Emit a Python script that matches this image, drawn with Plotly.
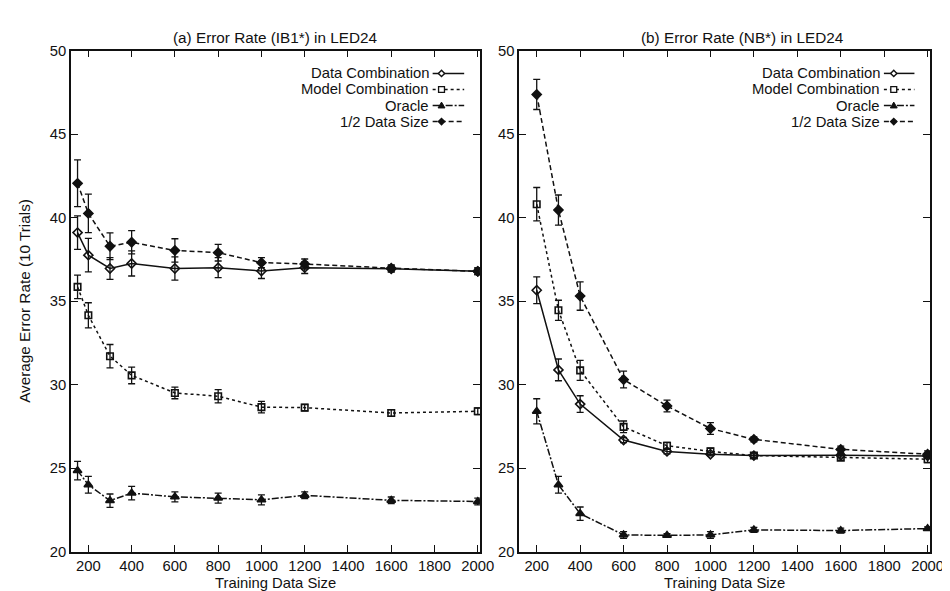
import plotly.graph_objects as go

# ---------------- data ----------------
x_left = [150, 200, 300, 400, 600, 800, 1000, 1200, 1600, 2000]
x_right = [200, 300, 400, 600, 800, 1000, 1200, 1600, 2000]

# (a) IB1*
a_data_comb = [39.1, 37.75, 36.95, 37.25, 36.95, 37.0, 36.8, 37.0, 36.93, 36.78]
a_data_comb_err = [1.0, 1.0, 0.65, 0.75, 0.7, 0.6, 0.45, 0.35, 0.2, 0.2]
a_model_comb = [35.85, 34.15, 31.7, 30.55, 29.5, 29.3, 28.65, 28.62, 28.3, 28.4]
a_model_comb_err = [0.7, 0.75, 0.7, 0.5, 0.35, 0.4, 0.35, 0.2, 0.2, 0.2]
a_oracle = [24.85, 24.0, 23.05, 23.5, 23.28, 23.2, 23.1, 23.37, 23.07, 23.0]
a_oracle_err = [0.55, 0.5, 0.4, 0.4, 0.3, 0.3, 0.3, 0.2, 0.2, 0.2]
a_half = [42.05, 40.25, 38.28, 38.52, 38.03, 37.9, 37.3, 37.22, 36.97, 36.78]
a_half_err = [1.4, 1.15, 0.8, 0.7, 0.7, 0.5, 0.3, 0.3, 0.2, 0.2]

# (b) NB*
b_data_comb = [35.65, 30.88, 28.83, 26.68, 26.0, 25.83, 25.75, 25.77, 25.73]
b_data_comb_err = [0.8, 0.65, 0.5, 0.15, 0.15, 0.1, 0.1, 0.1, 0.1]
b_model_comb = [40.8, 34.45, 30.85, 27.47, 26.34, 26.0, 25.75, 25.62, 25.53]
b_model_comb_err = [1.0, 0.6, 0.6, 0.35, 0.2, 0.2, 0.15, 0.15, 0.2]
b_oracle = [28.4, 24.0, 22.27, 21.0, 20.97, 21.0, 21.3, 21.26, 21.38]
b_oracle_err = [0.75, 0.5, 0.4, 0.2, 0.1, 0.2, 0.15, 0.15, 0.1]
b_half = [47.37, 40.45, 35.3, 30.3, 28.72, 27.37, 26.72, 26.12, 25.83]
b_half_err = [0.9, 0.9, 0.85, 0.5, 0.35, 0.35, 0.15, 0.2, 0.2]

series_names = ["Data Combination", "Model Combination", "Oracle", "1/2 Data Size"]
x_ticks = [200, 400, 600, 800, 1000, 1200, 1400, 1600, 1800, 2000]
y_ticks = [20, 25, 30, 35, 40, 45, 50]
titles = ["(a) Error Rate (IB1*) in LED24", "(b) Error Rate (NB*) in LED24"]
x_title = "Training Data Size"
y_title = "Average Error Rate (10 Trials)"

# ---------------- styles ----------------
W, H = 950, 591
FONT = "Liberation Sans, Arial, Helvetica, sans-serif"
BLACK = "#111111"

styles = {
    "Data Combination": dict(dash="solid", symbol="diamond-open", size=7),
    "Model Combination": dict(dash="3px,3px", symbol="square-open", size=6.5),
    "Oracle": dict(dash="7px,2px,2px,2px", symbol="triangle-up", size=7.5),
    "1/2 Data Size": dict(dash="5px,3px", symbol="diamond", size=7),
}


def px(xp):
    return xp / W


def py(yp):
    return 1 - yp / H


fig = go.Figure()

panels = [
    ("x", "y", x_left, [a_data_comb, a_model_comb, a_oracle, a_half],
     [a_data_comb_err, a_model_comb_err, a_oracle_err, a_half_err]),
    ("x2", "y2", x_right, [b_data_comb, b_model_comb, b_oracle, b_half],
     [b_data_comb_err, b_model_comb_err, b_oracle_err, b_half_err]),
]

for xa, ya, xs, ys_list, err_list in panels:
    for name, ys, errs in zip(series_names, ys_list, err_list):
        st = styles[name]
        fig.add_trace(go.Scatter(
            x=xs, y=ys, xaxis=xa, yaxis=ya, name=name, showlegend=False,
            mode="lines+markers",
            line=dict(color=BLACK, width=1.5, dash=st["dash"]),
            marker=dict(symbol=st["symbol"], size=st["size"], color=BLACK,
                        line=dict(color=BLACK, width=1.6)),
            error_y=dict(type="data", array=errs, visible=True,
                         color=BLACK, thickness=1.3, width=3.5),
        ))

axis_common = dict(
    showline=True, linecolor=BLACK, linewidth=1.6, mirror="ticks",
    ticks="inside", ticklen=7, tickwidth=1.3, tickcolor=BLACK,
    showgrid=False, zeroline=False,
    tickfont=dict(family=FONT, size=14.8, color=BLACK),
)

fig.update_layout(
    width=W, height=H,
    paper_bgcolor="white", plot_bgcolor="white",
    margin=dict(l=0, r=0, t=0, b=0),
    showlegend=False,
    xaxis=dict(domain=[px(64), px(479)], range=[120, 2010],
               tickvals=x_ticks, anchor="y", **axis_common),
    yaxis=dict(domain=[py(550.5), py(35.5)], range=[20, 50],
               tickvals=y_ticks, anchor="x", **axis_common),
    xaxis2=dict(domain=[px(519), px(936)], range=[120, 2012],
                tickvals=x_ticks, anchor="y2", **axis_common),
    yaxis2=dict(domain=[py(550.5), py(35.5)], range=[20, 50],
                tickvals=y_ticks, anchor="x2", **axis_common),
)

annotations = []
title_font = dict(family=FONT, size=15.3, color=BLACK)
legend_font = dict(family=FONT, size=14.8, color=BLACK)
# panel titles
for cx, t in zip([271.7, 745.6], titles):
    annotations.append(dict(text=t, x=px(cx), y=py(21.7), xref="paper", yref="paper",
                            xanchor="center", yanchor="middle", showarrow=False,
                            font=title_font))
# x titles
for cx in [271.7, 727.5]:
    annotations.append(dict(text=x_title, x=px(cx), y=py(583), xref="paper", yref="paper",
                            xanchor="center", yanchor="middle", showarrow=False,
                            font=dict(family=FONT, size=14.8, color=BLACK)))
# y title
annotations.append(dict(text=y_title, x=px(16), y=py(293), xref="paper", yref="paper",
                        xanchor="center", yanchor="middle", showarrow=False,
                        textangle=-90, font=title_font))

# manual legends (text right-aligned, sample on the right)
shapes = []
legend_rows = [59.0, 75.5, 92.0, 108.5]
for text_right, s0, s1, mx in [(428, 431, 463, 440), (886, 889, 920, 899)]:
    for name, ry in zip(series_names, legend_rows):
        st = styles[name]
        annotations.append(dict(text=name, x=px(text_right), y=py(ry), xref="paper",
                                yref="paper", xanchor="right", yanchor="middle",
                                showarrow=False, font=legend_font, borderpad=0))
        shapes.append(dict(type="line", xref="paper", yref="paper",
                           x0=px(s0), x1=px(s1), y0=py(ry), y1=py(ry),
                           line=dict(color=BLACK, width=1.5, dash=st["dash"])))
        r = 3.2
        if "diamond" in st["symbol"]:
            path = (f"M {px(mx)},{py(ry - r)} L {px(mx + r)},{py(ry)} "
                    f"L {px(mx)},{py(ry + r)} L {px(mx - r)},{py(ry)} Z")
            fill = BLACK if st["symbol"] == "diamond" else "white"
            shapes.append(dict(type="path", xref="paper", yref="paper", path=path,
                               fillcolor=fill, line=dict(color=BLACK, width=1.4)))
        elif "square" in st["symbol"]:
            shapes.append(dict(type="rect", xref="paper", yref="paper",
                               x0=px(mx - 3), x1=px(mx + 3), y0=py(ry - 3), y1=py(ry + 3),
                               fillcolor="white", line=dict(color=BLACK, width=1.3)))
        else:
            path = (f"M {px(mx)},{py(ry - 3.5)} L {px(mx + 3.5)},{py(ry + 2.5)} "
                    f"L {px(mx - 3.5)},{py(ry + 2.5)} Z")
            shapes.append(dict(type="path", xref="paper", yref="paper", path=path,
                               fillcolor=BLACK, line=dict(color=BLACK, width=1)))

fig.update_layout(annotations=annotations, shapes=shapes)

fig.write_html("out.html")
